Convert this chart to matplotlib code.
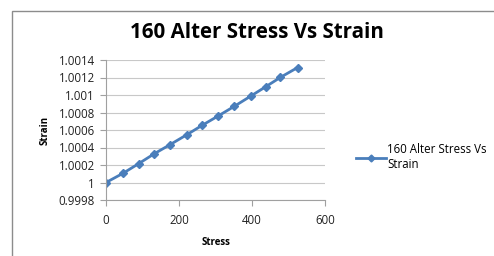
import matplotlib
matplotlib.use("Agg")
import matplotlib.pyplot as plt
from matplotlib.patches import Rectangle
from matplotlib.lines import Line2D

stress = [0, 47, 90, 132, 176, 221, 264, 308, 352, 396, 437, 478, 525]
strain = [1.0, 1.000106, 1.000217, 1.000328, 1.000434, 1.000545, 1.000655,
          1.000762, 1.000872, 1.000986, 1.001093, 1.001202, 1.001314]
yticks = [0.9998, 1, 1.0002, 1.0004, 1.0006, 1.0008, 1.001, 1.0012, 1.0014]
ytick_labels = ["0.9998", "1", "1.0002", "1.0004", "1.0006", "1.0008", "1.001", "1.0012", "1.0014"]
xticks = [0, 200, 400, 600]
title = "160 Alter Stress Vs Strain"
series_name = "160 Alter Stress Vs\nStrain"

W, H = 494, 256
fig = plt.figure(figsize=(W / 100, H / 100), dpi=100)
fig.patch.set_facecolor("white")
plt.rcParams['font.family'] = ['Open Sans', 'DejaVu Sans']

# outer chart border
fig.add_artist(Rectangle((12 / W, -0.1), 1.2, (H - 11) / H + 0.1, transform=fig.transFigure,
                         fill=False, edgecolor="#8c8c8c", linewidth=1.0))

left, right, top, bottom = 106, 325, 60, 200
ax = fig.add_axes([left / W, 1 - bottom / H, (right - left) / W, (bottom - top) / H])
color = "#4a7ebb"
ax.plot(stress, strain, color=color, linewidth=2.0, marker="D", markersize=4.5,
        markerfacecolor=color, markeredgecolor=color)
ax.set_xlim(0, 600)
ax.set_ylim(0.9998, 1.0014)
ax.set_yticks(yticks)
ax.set_yticklabels(ytick_labels)
ax.set_xticks(xticks)
ax.yaxis.grid(True, color="#c8c8c8", linewidth=0.8)
ax.set_axisbelow(True)
for s in ["top", "right"]:
    ax.spines[s].set_visible(False)
for s in ["left", "bottom"]:
    ax.spines[s].set_color("#a0a0a0")
    ax.spines[s].set_linewidth(0.8)
ax.tick_params(axis="both", colors="#a0a0a0", labelcolor="#222222", labelsize=8.3,
               length=4, width=0.8, pad=4)
ax.tick_params(axis="x", pad=6)
ax.set_xlabel("Stress", fontsize=7, fontweight="bold", labelpad=7)
ax.set_ylabel("Strain", fontsize=7, fontweight="bold", labelpad=6)
fig.text(257 / W, 1 - 33 / H, title, ha="center", va="center", fontsize=14.8, fontweight="bold")

handle = Line2D([], [], color=color, linewidth=2.0, marker="D", markersize=3.5,
                markerfacecolor=color, markeredgecolor=color)
fig.legend([handle], [series_name], loc="upper left", bbox_to_anchor=(350 / W, 1 - 137 / H),
           frameon=False, fontsize=8.3, handlelength=2.6, handletextpad=0.1, borderpad=0,
           labelspacing=0.2)

fig.savefig("out.png", dpi=100, facecolor="white")
